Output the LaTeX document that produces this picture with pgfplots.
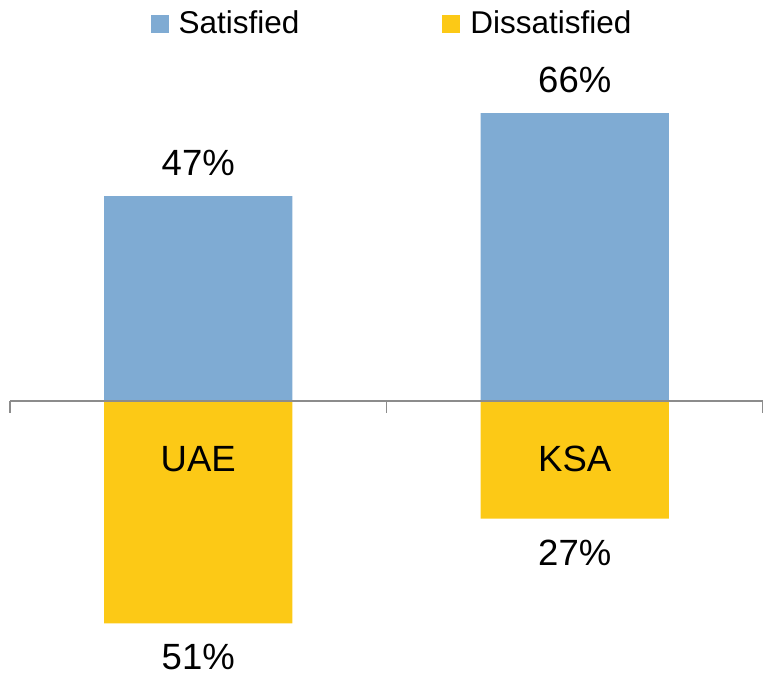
\documentclass[border=0pt]{standalone}
\usepackage{pgfplots}
\pgfplotsset{compat=1.18}
\usepackage{fontspec}
\setmainfont{Liberation Sans}
\definecolor{sat}{HTML}{7FABD3}
\definecolor{dis}{HTML}{FCC916}
\definecolor{axgray}{HTML}{8C8C8C}
\newcommand{\lblfont}{\fontsize{36.5}{42}\selectfont}
\begin{document}
\fontsize{31.5}{38}\selectfont
\begin{tikzpicture}
\path[use as bounding box] (0,0) rectangle (763pt,677pt);
\begin{axis}[
  at={(10pt,0pt)}, anchor=south west,
  scale only axis, width=753pt, height=677pt,
  xmin=-0.5, xmax=1.5, ymin=-63.3, ymax=91.97,
  axis x line=middle, axis y line=none,
  x axis line style={-, axgray, line width=1.5pt},
  xtick={-0.5,0.5,1.5}, xticklabels={},
  ytick=\empty,
  major tick length=12pt,
  xtick style={axgray, line width=1.5pt},
  tick align=outside,
  axis on top,
  ybar, bar width=0.5,
  legend columns=2,
  legend image code/.code={\fill[#1] (0pt,-9pt) rectangle (18pt,9pt);},
  legend style={at={(0.506,0.9638)}, anchor=center, draw=none, fill=none,
    inner sep=0pt, nodes={inner sep=0pt, anchor=west},
    /tikz/every odd column/.append style={column sep=10pt},
    /tikz/every even column/.append style={column sep=143pt}},
]
\addplot[fill=sat, draw=none, bar shift=0pt,
  point meta=explicit symbolic,
  nodes near coords={\pgfplotspointmeta\%},
  every node near coord/.append style={anchor=base, yshift=20.5pt, inner sep=0pt, black, font=\lblfont}]
  coordinates {(0,47) [47] (1,66) [66]};
\addplot[fill=dis, draw=none, bar shift=0pt,
  point meta=explicit symbolic,
  nodes near coords={\pgfplotspointmeta\%},
  every node near coord/.append style={anchor=base, yshift=-46.5pt, inner sep=0pt, black, font=\lblfont}]
  coordinates {(0,-51) [51] (1,-27) [27]};
\legend{Satisfied, Dissatisfied}
\node[anchor=base, font=\lblfont] at (axis cs:0,-16.2) {UAE};
\node[anchor=base, font=\lblfont] at (axis cs:1,-16.2) {KSA};
\end{axis}
\end{tikzpicture}
\end{document}
